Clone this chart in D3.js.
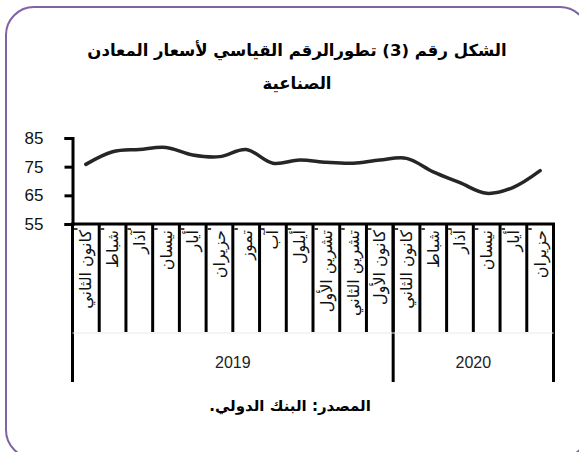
<!DOCTYPE html>
<html>
<head>
<meta charset="utf-8">
<script src="https://cdn.jsdelivr.net/npm/d3@7"></script>
<style>
  body { margin: 0; background: #fff; }
</style>
</head>
<body>
<script>
// chart data
const months = ["كانون الثاني", "شباط", "آذار", "نيسان", "أيار", "حزيران", "تموز", "آب", "أيلول",
                "تشرين الأول", "تشرين الثاني", "كانون الأول",
                "كانون الثاني", "شباط", "آذار", "نيسان", "أيار", "حزيران"];
const years = ["2019", "2020"];
const yearCounts = [12, 6];
const values = [75.8, 80.2, 81.0, 81.7, 79.1, 78.5, 81.0, 76.2, 77.3, 76.5, 76.2, 77.3,
                77.9, 73.2, 69.4, 65.7, 67.8, 73.6];
const yTicks = [55, 65, 75, 85];
const titleLines = ["الشكل رقم (3) تطورالرقم القياسي لأسعار المعادن", "الصناعية"];
const sourceText = "المصدر: البنك الدولي.";

function drawChart() {
  const width = 579, height = 452;
  const plot = {left: 72.5, right: 553.5, top: 138, bottom: 224};
  const arabicFont = "'DejaVu Sans', sans-serif";
  const numFont = "'Liberation Sans', Arial, sans-serif";

  const svg = d3.select("body").append("svg")
      .attr("width", width)
      .attr("height", height);

  // rounded frame
  svg.append("rect")
      .attr("x", 6).attr("y", 7)
      .attr("width", 582).attr("height", 451)
      .attr("rx", 28).attr("ry", 28)
      .attr("fill", "none")
      .attr("stroke", "#8064a2")
      .attr("stroke-width", 2);

  // title
  svg.append("g").selectAll("text")
      .data(titleLines)
      .join("text")
      .attr("x", 297)
      .attr("y", (d, i) => 56 + i * 33)
      .attr("text-anchor", "middle")
      .attr("direction", "rtl")
      .style("font-family", arabicFont)
      .style("font-weight", "bold")
      .style("font-size", "16.5px")
      .text(d => d);

  const x = d3.scaleBand()
      .domain(d3.range(months.length))
      .range([plot.left, plot.right]);

  const y = d3.scaleLinear()
      .domain([55, 85])
      .range([plot.bottom, plot.top]);

  // y axis
  const yAxis = svg.append("g")
      .attr("transform", "translate(" + plot.left + ",0)")
      .call(d3.axisLeft(y).tickValues(yTicks).tickSize(8).tickPadding(21));
  yAxis.select(".domain").attr("stroke", "#000").attr("stroke-width", 3);
  yAxis.selectAll(".tick line").attr("stroke", "#000").attr("stroke-width", 3);
  yAxis.selectAll(".tick text")
      .style("font-family", numFont)
      .style("font-size", "17px")
      .attr("fill", "#111");

  // x axis line
  svg.append("line")
      .attr("x1", plot.left - 1.5).attr("x2", plot.right + 1.5)
      .attr("y1", plot.bottom).attr("y2", plot.bottom)
      .attr("stroke", "#000").attr("stroke-width", 3);

  // category separators
  const bounds = d3.range(months.length + 1).map(i => i < months.length ? x(i) : x(i - 1) + x.bandwidth());
  svg.append("g").selectAll("line")
      .data(bounds)
      .join("line")
      .attr("x1", d => d).attr("x2", d => d)
      .attr("y1", plot.bottom)
      .attr("y2", 332)
      .attr("stroke", "#000").attr("stroke-width", 3);

  // small tick stubs inside cells
  svg.append("g").selectAll("line")
      .data(d3.range(months.length))
      .join("line")
      .attr("x1", d => x(d) + 1.5).attr("x2", d => x(d) + 5)
      .attr("y1", plot.bottom + 5).attr("y2", plot.bottom + 5)
      .attr("stroke", "#000").attr("stroke-width", 1.5);

  // year group lines
  let start = 0;
  const yearBounds = [bounds[0]];
  yearCounts.forEach(c => { start += c; yearBounds.push(bounds[start]); });
  svg.append("g").selectAll("line")
      .data(yearBounds)
      .join("line")
      .attr("x1", d => d).attr("x2", d => d)
      .attr("y1", plot.bottom)
      .attr("y2", 382)
      .attr("stroke", "#000").attr("stroke-width", 3);

  // faint band between month and year rows
  svg.append("line")
      .attr("x1", plot.left).attr("x2", plot.right)
      .attr("y1", 333).attr("y2", 333)
      .attr("stroke", "#e8e8e8").attr("stroke-width", 1);

  // month labels
  svg.append("g").selectAll("text")
      .data(months)
      .join("text")
      .attr("transform", (d, i) => "translate(" + (x(i) + x.bandwidth() / 2) + "," + (plot.bottom + 6) + ") rotate(-90)")
      .attr("direction", "rtl")
      .attr("text-anchor", "start")
      .attr("dominant-baseline", "central")
      .style("font-family", arabicFont)
      .style("font-size", "16px")
      .attr("fill", "#111")
      .text(d => d);

  // year labels
  svg.append("g").selectAll("text")
      .data(years)
      .join("text")
      .attr("x", (d, i) => (yearBounds[i] + yearBounds[i + 1]) / 2)
      .attr("y", 368)
      .attr("text-anchor", "middle")
      .style("font-family", numFont)
      .style("font-size", "16px")
      .attr("fill", "#222")
      .text(d => d);

  // line
  const line = d3.line()
      .x((d, i) => x(i) + x.bandwidth() / 2)
      .y(d => y(d))
      .curve(d3.curveCatmullRom.alpha(0.5));

  svg.append("path")
      .datum(values)
      .attr("d", line)
      .attr("fill", "none")
      .attr("stroke", "#262626")
      .attr("stroke-width", 3.5)
      .attr("stroke-linecap", "round");

  // source
  svg.append("text")
      .attr("x", 290)
      .attr("y", 411)
      .attr("text-anchor", "middle")
      .attr("direction", "rtl")
      .style("font-family", arabicFont)
      .style("font-weight", "bold")
      .style("font-size", "15px")
      .text(sourceText);
}

drawChart();
</script>
</body>
</html>
